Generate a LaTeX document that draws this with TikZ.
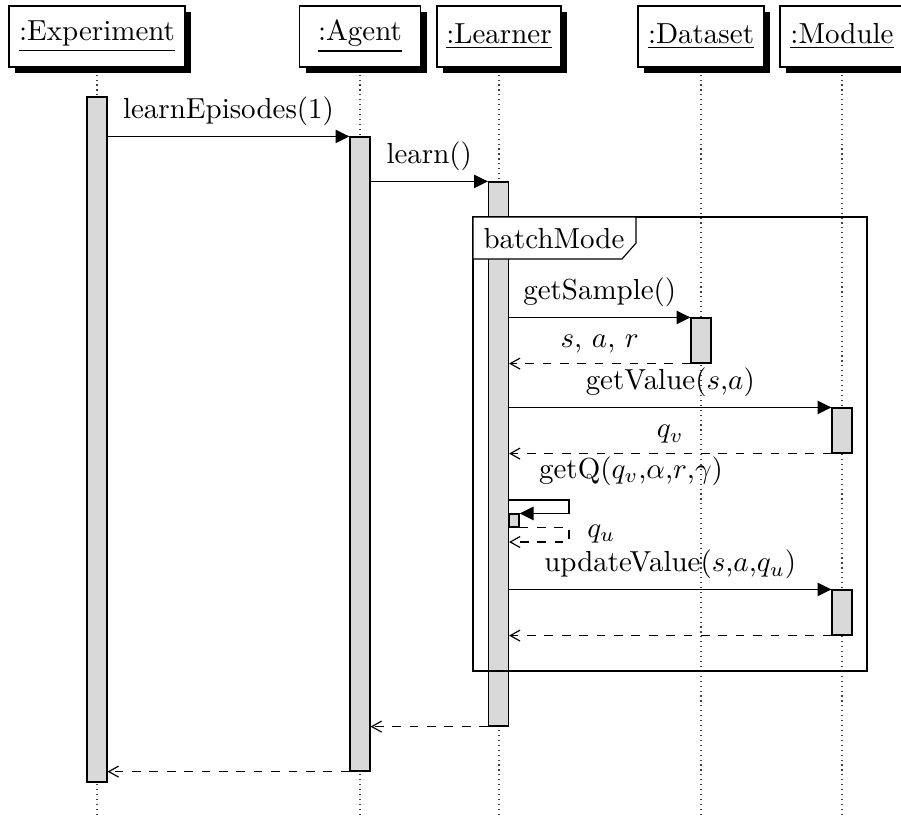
\documentclass[tikz,border=0pt]{standalone}
\usetikzlibrary{arrows.meta,shadows}
\newdimen\pxu \pxu=0.345pt
\definecolor{actgray}{RGB}{217,217,217}
\begin{document}
\begin{tikzpicture}[x=0.345pt,y=-0.345pt,
  obj/.style={draw, fill=white, inner sep=0pt, minimum height=61\pxu,
    drop shadow={shadow xshift=6\pxu, shadow yshift=-6\pxu, fill=black, opacity=1}},
  life/.style={dash pattern=on 0.4pt off 1.3pt, black!75},
  act/.style={draw, fill=actgray, inner sep=0pt, minimum width=20\pxu},
  call/.style={-{Triangle[length=4.8pt,width=4.6pt]}},
  ret/.style={dashed, -{Straight Barb[length=3.4pt,width=3.8pt]}},
  msg/.style={above}]
\useasboundingbox (0,0) rectangle (901,816);
\coordinate (bot) at (0,816);

% object heads
\node[obj, minimum width=176\pxu] (hE) at (97,36.5)  {\underline{:Experiment}};
\node[obj, minimum width=121\pxu] (hA) at (360,36.5) {\underline{:Agent}};
\node[obj, minimum width=124\pxu] (hL) at (499,36.5) {\underline{:Learner}};
\node[obj, minimum width=126\pxu] (hD) at (701,36.5) {\underline{:Dataset}};
\node[obj, minimum width=124\pxu] (hM) at (842,36.5) {\underline{:Module}};

% lifelines
\foreach \h in {hE,hA,hL,hD,hM}
  \draw[life] (\h.south) ++(0,7) -- (\h.south |- bot);

% activations
\node[act, minimum height=685\pxu] (actE) at (97,439.5) {};
\node[act, minimum height=634\pxu] (actA) at (360,454) {};
\node[act, minimum height=544\pxu] (actL) at (498.5,454) {};
\node[act, minimum height=45\pxu]  (actD) at (701,340.5) {};
\node[act, minimum height=45\pxu]  (actM1) at (842,430.5) {};
\node[act, minimum height=13\pxu, minimum width=10\pxu] (actS) at (514,520.5) {};
\node[act, minimum height=45\pxu]  (actM2) at (842,612.5) {};

% batchMode frame
\draw (473,217) rectangle (867,671);
\draw[fill=white] (473,217) -- (636,217) -- (636,243) -- (622,259) -- (473,259) -- cycle;
\node[anchor=base] (fr) at (554,248) {batchMode};

% calls and returns
\draw[call] (actE.east |- actA.north west) -- node[msg] {learnEpisodes(1)} (actA.north west);
\draw[call] (actA.east |- actL.north west) -- node[msg] {learn()} (actL.north west);
\draw[call] (actL.east |- actD.north west) -- node[msg] {getSample()} (actD.north west);
\draw[ret] (actD.south west) -- node[msg] {$s$, $a$, $r$} (actL.east |- actD.south west);
\draw[call] (actL.east |- actM1.north west) -- node[msg] {getValue($s$,$a$)} (actM1.north west);
\draw[ret] (actM1.south west) -- node[msg] {$q_v$} (actL.east |- actM1.south west);

% self call
\coordinate (qs) at (569,500);
\coordinate (qr) at (569,542);
\node[anchor=base] (qlab) at (631,478) {getQ($q_v$,$\alpha$,$r$,$\gamma$)};
\draw[call] (actL.east |- qs) -- (qs) |- (actS.north east);
\draw[ret] (actS.south east) -| (qr) -- (actL.east |- qr);
\node[anchor=base west] (qu) at (577,537) {$q_u$};

\draw[call] (actL.east |- actM2.north west) -- node[msg] {updateValue($s$,$a$,$q_u$)} (actM2.north west);
\draw[ret] (actM2.south west) -- (actL.east |- actM2.south west);

\draw[ret] (actL.south west) -- (actA.east |- actL.south west);
\draw[ret] (actA.south west) -- (actE.east |- actA.south west);
\end{tikzpicture}
\end{document}
